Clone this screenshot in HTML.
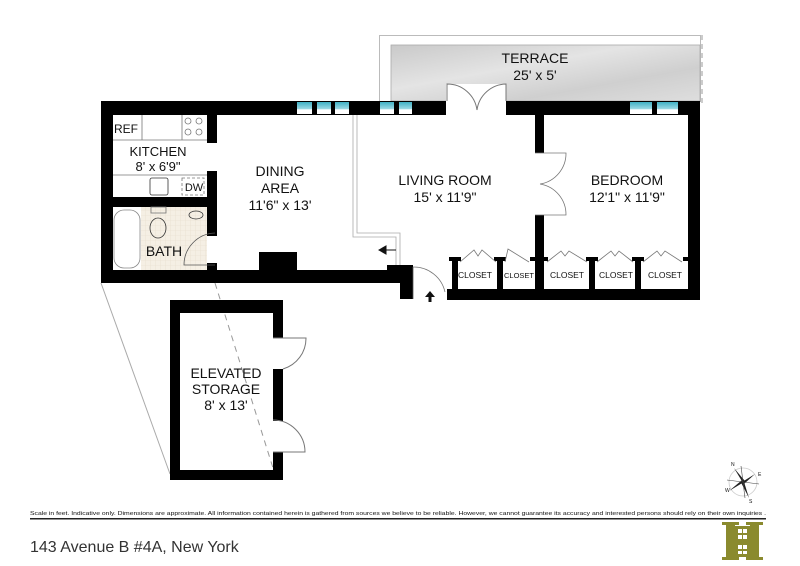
<!DOCTYPE html>
<html><head><meta charset="utf-8"><style>
html,body{margin:0;padding:0;background:#fff;width:800px;height:566px;overflow:hidden}
svg{display:block}
text{font-family:"Liberation Sans",sans-serif;fill:#111}
</style></head><body>
<svg width="800" height="566" viewBox="0 0 800 566" xmlns="http://www.w3.org/2000/svg">
<defs>
<linearGradient id="ter" x1="0" y1="0" x2="1" y2="1">
<stop offset="0" stop-color="#c9c9c9"/><stop offset="0.4" stop-color="#e4e4e4"/><stop offset="0.7" stop-color="#cfcfcf"/><stop offset="1" stop-color="#dedede"/>
</linearGradient>
<linearGradient id="win" x1="0" y1="0" x2="0" y2="1">
<stop offset="0" stop-color="#3fb0c4"/><stop offset="0.6" stop-color="#9fdbe6"/><stop offset="0.61" stop-color="#fff"/><stop offset="1" stop-color="#fff"/>
</linearGradient>
<pattern id="tile" width="5" height="5" patternUnits="userSpaceOnUse"><rect width="5" height="5" fill="#f5efe4"/><path d="M0 0H5M0 0V5" stroke="#e6dccb" stroke-width="0.6"/></pattern>
</defs>
<!-- terrace -->
<rect x="379.5" y="35.5" width="321" height="66" fill="none" stroke="#bbb" stroke-width="1"/>
<rect x="391" y="45" width="309" height="56" fill="url(#ter)" stroke="#aaa" stroke-width="0.8"/>
<line x1="702" y1="35" x2="702" y2="105" stroke="#999" stroke-dasharray="5,4"/>
<text x="535" y="63" font-size="14" text-anchor="middle">TERRACE</text>
<text x="535" y="80" font-size="14" text-anchor="middle">25' x 5'</text>
<!-- terrace door -->
<rect x="446" y="84" width="60" height="20" fill="#fff"/>
<path d="M447 101V84 A30 30 0 0 1 477 110" fill="none" stroke="#777" stroke-width="1"/>
<path d="M506 101V84 A30 30 0 0 0 477 110" fill="none" stroke="#777" stroke-width="1"/>
<!-- bath tile -->
<rect x="141" y="207" width="66" height="63" fill="url(#tile)"/>
<!-- walls -->
<g fill="#000">
<rect x="101" y="101" width="345" height="14"/>
<rect x="506" y="101" width="194" height="14"/>
<rect x="101" y="101" width="12" height="182"/>
<rect x="101" y="270" width="290" height="13"/>
<rect x="387" y="265" width="21" height="18"/>
<rect x="400" y="265" width="13" height="34"/>
<rect x="688" y="101" width="12" height="199"/>
<rect x="447" y="289" width="253" height="11"/>
<rect x="207" y="115" width="10" height="28"/>
<rect x="207" y="171" width="10" height="65"/>
<rect x="113" y="197" width="94" height="10"/>
<rect x="207" y="263" width="10" height="8"/>
<rect x="259" y="252" width="38" height="18"/>
<rect x="535" y="115" width="9" height="38"/>
<rect x="535" y="215" width="9" height="75"/>
<rect x="452" y="257" width="6" height="33"/><rect x="449" y="257" width="12" height="4"/>
<rect x="497" y="257" width="6" height="33"/><rect x="494" y="257" width="12" height="4"/>
<rect x="530" y="257" width="18" height="4"/>
<rect x="589" y="257" width="6" height="33"/><rect x="586" y="257" width="12" height="4"/>
<rect x="635" y="257" width="6" height="33"/><rect x="632" y="257" width="12" height="4"/>
<rect x="683" y="257" width="6" height="4"/>
</g>
<!-- windows -->
<g fill="url(#win)">
<rect x="297" y="102" width="15" height="12"/><rect x="317" y="102" width="14" height="12"/><rect x="335" y="102" width="14" height="12"/>
<rect x="380" y="102" width="14" height="12"/><rect x="399" y="102" width="13" height="12"/>
<rect x="630" y="102" width="22" height="12"/><rect x="657" y="102" width="21" height="12"/>
</g>
<!-- kitchen -->
<g fill="none" stroke="#777" stroke-width="0.8">
<line x1="113" y1="140" x2="207" y2="140"/>
<line x1="142" y1="115" x2="142" y2="140"/>
<line x1="182" y1="115" x2="182" y2="140"/>
<line x1="113" y1="175" x2="207" y2="175"/>
<rect x="150" y="178" width="18" height="17" rx="2" stroke="#333"/>
<rect x="182" y="178" width="22" height="17" stroke-dasharray="3,2"/>
<circle cx="188" cy="121" r="3"/><circle cx="199" cy="121" r="3"/><circle cx="188" cy="132" r="3"/><circle cx="199" cy="132" r="3"/>
<rect x="114" y="210" width="26" height="58" rx="10" stroke="#888"/>
<ellipse cx="158" cy="228" rx="8" ry="10" stroke="#333"/>
<rect x="151" y="207" width="15" height="6"/>
<ellipse cx="196" cy="215" rx="7" ry="4" stroke="#333"/>
<path d="M215 233 A32 32 0 0 0 184 265 L215 265" stroke="#555"/>
<path d="M353 115V237H396V265" stroke="#aaa"/>
<path d="M357 115V233H400V265" stroke="#aaa"/>
<path d="M413 267 A32 32 0 0 1 445 292" stroke="#777"/>
<line x1="413" y1="267" x2="413" y2="299" stroke="#555"/>
<path d="M535 153H566 A31 31 0 0 1 540 184 M535 215H566 A31 31 0 0 0 540 184" stroke="#777"/>
<path d="M460 262 L474 250 L478 256 L482 250 L496 262"/>
<path d="M505 262 L508 249 L529 262"/>
<path d="M547 262 L561 251 L565 256 L569 251 L587 262"/>
<path d="M597 262 L611 251 L615 256 L619 251 L633 262"/>
<path d="M643 262 L657 251 L661 256 L665 251 L682 262"/>
</g>
<!-- arrows -->
<path d="M379 250 L386 246 L386 254 Z M386 250H396" fill="#111" stroke="#111" stroke-width="1"/>
<path d="M430 291 L425 297 L428.5 297 L428.5 302 L431.5 302 L431.5 297 L435 297 Z" fill="#111"/>
<!-- storage -->
<line x1="101" y1="283" x2="170" y2="474" stroke="#aaa" stroke-width="1"/>
<line x1="215" y1="283" x2="273" y2="468" stroke="#999" stroke-width="1" stroke-dasharray="6,5"/>
<path d="M170 300H283V338H273V313H180V470H273V452H283V480H170Z" fill="#000"/>
<rect x="273" y="369" width="10" height="52" fill="#000"/>
<path d="M273 338H306 A32 32 0 0 1 283 369 M273 420 A32 32 0 0 1 305 452 H273" fill="none" stroke="#777" stroke-width="1"/>
<!-- labels -->
<g font-size="14" text-anchor="middle">
<text x="445" y="185">LIVING ROOM</text><text x="445" y="202">15' x 11'9"</text>
<text x="627" y="185">BEDROOM</text><text x="627" y="202">12'1" x 11'9"</text>
<text x="280" y="176">DINING</text><text x="280" y="193">AREA</text><text x="280" y="210">11'6" x 13'</text>
<text x="158" y="156" font-size="13">KITCHEN</text><text x="158" y="171" font-size="13">8' x 6'9"</text>
<text x="226" y="378">ELEVATED</text><text x="226" y="394">STORAGE</text><text x="226" y="410">8' x 13'</text>
<text x="164" y="256" font-size="14">BATH</text>
</g>
<text x="126" y="133" font-size="12" text-anchor="middle">REF</text>
<text x="194" y="191" font-size="11" text-anchor="middle">DW</text>
<g font-size="8.5" text-anchor="middle">
<text x="475" y="278">CLOSET</text><text x="519" y="278" font-size="7.5">CLOSET</text><text x="567" y="278">CLOSET</text><text x="616" y="278">CLOSET</text><text x="665" y="278">CLOSET</text>
</g>
<!-- compass -->
<g transform="translate(743,482)">
<circle r="14" fill="none" stroke="#ccc" stroke-width="0.8"/>
<path d="M-9 -14 L1.5 -1.5 L12 -8 L1.5 1.5 L6 16 L-1.5 1.5 L-14 9 L-1.5 -1.5 Z" fill="#222"/>
<path d="M-16 -2 L16 2 M-2 -16 L2 16" stroke="#444" stroke-width="0.6"/>
<text x="-12" y="-16" font-size="5">N</text><text x="15" y="-6" font-size="5">E</text><text x="-18" y="10" font-size="5">W</text><text x="6" y="21" font-size="5">S</text>
</g>
<!-- footer -->
<text x="30" y="515" font-size="5.6" textLength="736" lengthAdjust="spacingAndGlyphs">Scale in feet. Indicative only. Dimensions are approximate. All information contained herein is gathered from sources we believe to be reliable. However, we cannot guarantee its accuracy and interested persons should rely on their own inquiries .</text>
<rect x="30" y="518" width="736" height="1.5" fill="#222"/>
<text x="30" y="552" font-size="16" style="fill:#333">143 Avenue B #4A, New York</text>
<g fill="#8a8a2e">
<rect x="722" y="522" width="17" height="3"/><rect x="746" y="522" width="17" height="3"/>
<rect x="722" y="557" width="17" height="3"/><rect x="746" y="557" width="17" height="3"/>
<rect x="726" y="522" width="9" height="38"/><rect x="750" y="522" width="9" height="38"/>
<rect x="735" y="526" width="15" height="31"/>
</g>
<g fill="#fff"><rect x="738" y="529" width="4" height="4"/><rect x="743" y="529" width="4" height="4"/><rect x="738" y="535" width="4" height="4"/><rect x="743" y="535" width="4" height="4"/>
<rect x="738" y="545" width="4" height="4"/><rect x="743" y="545" width="4" height="4"/><rect x="738" y="551" width="4" height="3"/><rect x="743" y="551" width="4" height="3"/></g>
</svg>
</body></html>
